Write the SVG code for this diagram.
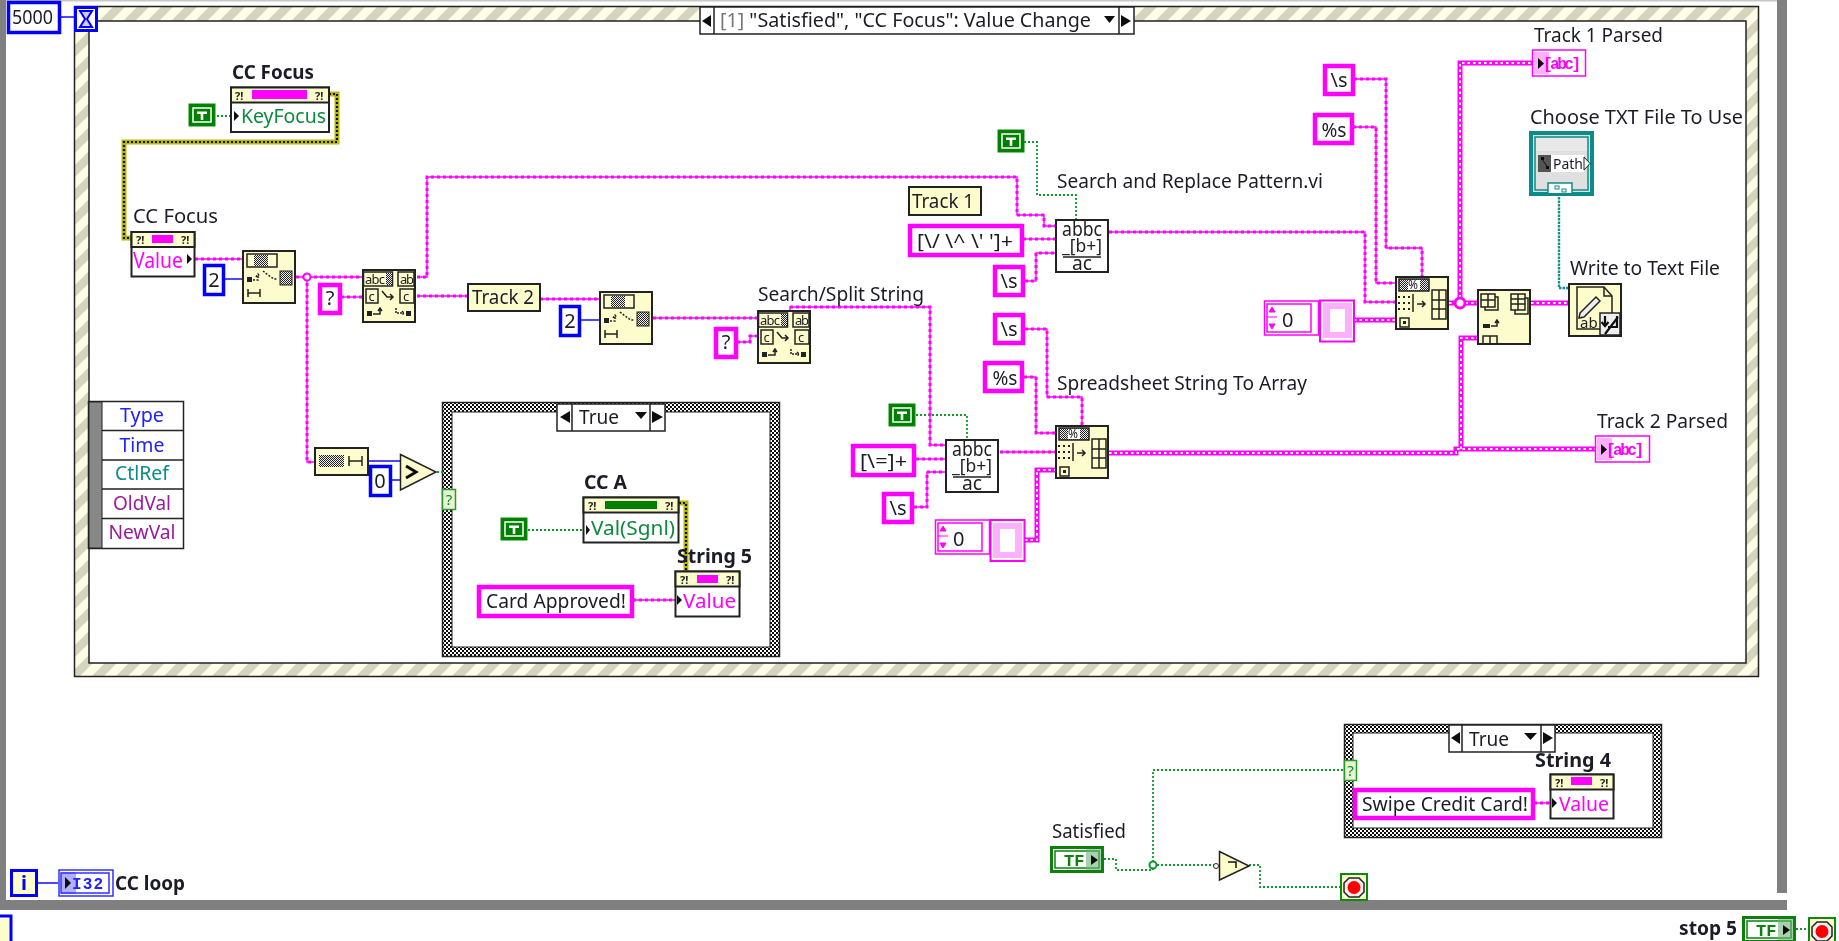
<svg xmlns="http://www.w3.org/2000/svg" width="1839" height="941" viewBox="0 0 1839 941">
<style>
text{font-family:"Noto Sans","Open Sans","Liberation Sans",sans-serif;font-size:20px;fill:#1c1c28}
.b{font-weight:700}
.mag{fill:#f0f}.grn{fill:#0a8a3c}.blu{fill:#2020ff}.tea{fill:#0a8a8a}.pur{fill:#9a1a9a}
.ctr{text-anchor:middle}
.node{fill:#fdfccc;stroke:#222;stroke-width:2}
.wbox{fill:#fff;stroke:#222;stroke-width:2}
.sc{fill:#fff;stroke:#f0f;stroke-width:4.500}
.nc{fill:#fff;stroke:#00f;stroke-width:3.500}
.tc{fill:#fdfccc;stroke:#222;stroke-width:2}
.ic{fill:none;stroke:#222;stroke-width:1.5}
.ik{fill:#222;stroke:none}
.icn{font-size:13px;fill:#222}
.str{stroke:#f0f;stroke-width:1.4;fill:none}
.strd{stroke:#f0f;stroke-width:3;stroke-dasharray:3 3;fill:none}
.fat{stroke:#f0f;stroke-width:5;fill:none}
.fatd{stroke:#fff;stroke-width:2;stroke-dasharray:2.500 3;fill:none}
.blw{stroke:#1a1aff;stroke-width:1.6;fill:none}
.gw{stroke:#0a9a2a;stroke-width:1.8;stroke-dasharray:2 2;fill:none}
.rw{stroke:#b8b800;stroke-width:5;fill:none}
.rwd{stroke:#111;stroke-width:2.2;stroke-dasharray:2 2;fill:none}
.tw{stroke:#159090;stroke-width:2.4;stroke-dasharray:2.5 1;fill:none}
.gray{fill:#808080}
</style>
<defs>
<filter id="soft" filterUnits="userSpaceOnUse" x="0" y="0" width="1839" height="941"><feGaussianBlur stdDeviation="0.45"/></filter>
<pattern id="hatch" width="24" height="24" patternUnits="userSpaceOnUse"><rect width="24" height="24" fill="#fdfde8"/><polygon points="0,24 12,24 24,12 24,0" fill="#d5d5bd"/><polygon points="0,12 12,0 0,0" fill="#d5d5bd"/></pattern>
<pattern id="chk" width="4" height="4" patternUnits="userSpaceOnUse"><rect width="4" height="4" fill="#fff"/><rect width="2" height="2" fill="#111"/><rect x="2" y="2" width="2" height="2" fill="#111"/></pattern>
<pattern id="dots" width="2" height="2" patternUnits="userSpaceOnUse"><rect width="2" height="2" fill="#eee"/><rect width="1" height="1" fill="#222"/><rect x="1" y="1" width="1" height="1" fill="#222"/></pattern>
<g id="icoT"><rect x="1" y="1" width="26" height="22" fill="#008000" stroke="#0a8a0a"/><rect x="5" y="5" width="18" height="14" fill="none" stroke="#fff" stroke-width="1.5"/><path d="M9 8.5H19V11H15.3V17H12.7V11H9Z" fill="#fff"/></g>
<g id="icoStop"><rect x="1" y="1" width="26" height="26" fill="#fdfccc" stroke="#0a8a0a" stroke-width="2"/><polygon points="9,5 19,5 24,10 24,19 19,24 9,24 4,19 4,10" fill="#eee" stroke="#222" stroke-width="1.5"/><circle cx="14" cy="14.500" r="6.500" fill="#f00"/></g>
<g id="icoTF"><rect x="1.500" y="1.500" width="51" height="24" fill="#fff" stroke="#0a800a" stroke-width="3"/><rect x="5" y="5" width="44" height="17" fill="#fff" stroke="#0a800a" stroke-width="1.500"/><text x="14" y="20" class="b" style="font-family:'Liberation Mono',monospace;font-size:17px;fill:#0a800a">TF</text><rect x="36" y="3" width="15" height="21" fill="#6fb07a" opacity=".6"/><polygon points="41,9 48,14 41,19" fill="#111"/></g>
<g id="icoSubset"><rect class="node" x="1" y="1" width="52" height="52"/><rect x="5" y="4" width="30" height="13" fill="#fdfccc" stroke="#222" stroke-width="1.500"/><rect x="12" y="5" width="14" height="11" fill="url(#dots)"/><rect x="38" y="21" width="12" height="14" fill="url(#dots)" stroke="#222"/><rect class="ik" x="5" y="27" width="5" height="5"/><path class="ic" d="M11 30H16V25M14 27L16 24L18 27M21 21L26 25L32 29L35 29" stroke-dasharray="2 1.500"/><path class="ic" d="M6 39V47M18 39V47M6 43H18"/></g>
<g id="icoSearch"><rect class="node" x="1" y="1" width="52" height="52"/><rect x="1.500" y="3" width="29" height="14" fill="#fdfccc" stroke="#222" stroke-width="1.500"/><text x="3" y="15" class="icn" textLength="20">abc</text><rect x="24" y="4" width="6" height="12" fill="url(#dots)"/><rect x="36" y="3" width="16" height="14" fill="#fdfccc" stroke="#222" stroke-width="1.500"/><text x="38" y="15" class="icn" textLength="14">ab</text><rect x="4" y="20" width="12" height="14" fill="none" stroke="#222" stroke-width="1.500"/><text x="6.500" y="32" class="icn">c</text><rect x="38" y="20" width="14" height="14" fill="none" stroke="#222" stroke-width="1.500"/><text x="41" y="32" class="icn">c</text><path class="ic" d="M20 22L25 28H31M28 25L31 28L28 31" stroke-width="2"/><rect class="ik" x="5" y="42" width="5" height="5"/><path class="ic" d="M11 45H18V40M16 42L18 39L20 42"/><rect class="ik" x="44" y="42" width="5" height="5"/><path class="ic" d="M34 39V44H42M40 42L42 44L40 46" stroke-dasharray="2 1"/></g>
<g id="icoRegex"><rect class="wbox" x="1" y="1" width="52" height="52"/><text x="27" y="17" class="ctr" style="font-size:19px;fill:#222" textLength="40" lengthAdjust="spacingAndGlyphs">abbc</text><text x="27" y="33" class="ctr" style="font-size:18px;fill:#222" textLength="40" lengthAdjust="spacingAndGlyphs">_[b+]</text><path d="M8 38H46" stroke="#222" stroke-width="1.500"/><text x="27" y="51" class="ctr" style="font-size:19px;fill:#222" textLength="20" lengthAdjust="spacingAndGlyphs">ac</text></g>
<g id="icoSheet"><rect class="node" x="1" y="1" width="52" height="52"/><rect x="4" y="3" width="30" height="12" fill="url(#dots)" stroke="#222" stroke-width="1.500"/><rect x="13" y="4" width="12" height="10" fill="#fff"/><text x="13" y="13" style="fill:#222;font-size:12px">%</text><path d="M3 20h2v2h-2zM8 20h2v2h-2zM13 20h2v2h-2zM3 26h2v2h-2zM8 26h2v2h-2zM13 26h2v2h-2zM3 32h2v2h-2zM8 32h2v2h-2zM13 32h2v2h-2z" class="ik"/><path d="M18 18V36" class="ic"/><path class="ic" d="M22 28H30M27 25L30 28L27 31" stroke-width="2"/><path class="ic" d="M37 14H51V43H37ZM44 14V43M37 24H51M37 33H51"/><rect x="5" y="42" width="9" height="9" fill="none" stroke="#222" stroke-width="1.500"/><rect x="8" y="45" width="3" height="3" class="ik"/></g>
<g id="icoBuild"><rect class="node" x="1" y="1" width="52" height="54"/><path class="ic" d="M4 5H18V18H4ZM11 5V18M4 11H18M18 8H21V21H8V18" stroke-width="1.400"/><path class="ic" d="M34 5H48V21H34ZM41 5V21M34 10H48M34 15H48M48 9H51V25H38V21" stroke-width="1.400"/><rect class="ik" x="6" y="35" width="7" height="4"/><path class="ic" d="M14 37H20V32M18 34L20 31L22 34"/><path class="ic" d="M6 47H20V55H6ZM13 47V55"/></g>
<g id="icoWrite"><rect class="node" x="1" y="1" width="52" height="52"/><path class="ic" d="M9 4H36L44 13V46H9Z"/><path class="ic" d="M36 4V13H44"/><path d="M12 30L28 14L32 18L16 34L11 35Z" fill="#eee" stroke="#222" stroke-width="1.500"/><text x="12" y="45" style="font-size:15px;fill:#222">ab</text><rect x="32" y="30" width="20" height="22" fill="#eee" stroke="#222" stroke-width="1.500"/><path d="M37 33V42M33.500 39L37 43L40.500 39M49 33V44H40M37 51L50 34" stroke="#111" stroke-width="2.200" fill="none"/></g>
<g id="errq"><text x="0" y="0" class="b" style="font-size:11px;fill:#222">?!</text></g>
</defs>

<g filter="url(#soft)">
<!-- while loop frame -->
<rect x="0" y="0" width="1777" height="1.500" fill="#c8c8c8"/>
<rect class="gray" x="0" y="0" width="6" height="910"/>
<rect class="gray" x="1777" y="0" width="10" height="893"/>
<rect class="gray" x="0" y="900" width="1787" height="10"/>
<rect x="-15" y="916" width="26" height="30" fill="#fdfccc" stroke="#00f" stroke-width="3"/>

<!-- event structure frame -->
<g id="event-structure">
<rect x="74.500" y="6.500" width="1684" height="670" fill="url(#hatch)" stroke="#222" stroke-width="1.500"/>
<rect x="89" y="21" width="1657" height="642" fill="#fff" stroke="#222" stroke-width="1.500"/>
<rect x="700" y="7" width="434" height="27" fill="#fff" stroke="#222" stroke-width="1.500"/>
<path d="M714 7V34M1119 7V34" stroke="#222" stroke-width="1.500"/>
<polygon points="702,21 711,15 711,27" fill="#111"/>
<polygon points="1121,15 1131,21 1121,27" fill="#111"/>
<polygon points="1104,16 1115,16 1109.500,23" fill="#111"/>
<text x="720" y="27" textLength="371" lengthAdjust="spacingAndGlyphs"><tspan style="fill:#777">[1]</tspan> "Satisfied", "CC Focus": Value Change</text>
</g>

<!-- case structure 1 frame -->
<g id="case-true-1">
<rect x="442.500" y="402.500" width="337" height="254" fill="url(#chk)" stroke="#222" stroke-width="1.500"/>
<rect x="452" y="412" width="318" height="235" fill="#fff" stroke="#222"/>
<rect x="557" y="404" width="108" height="27" fill="#fff" stroke="#222" stroke-width="1.500"/>
<path d="M572 404V431M650 404V431" stroke="#222" stroke-width="1.500"/>
<polygon points="560,417 570,411 570,423" fill="#111"/>
<polygon points="652,411 663,417 652,423" fill="#111"/>
<polygon points="635,412 647,412 641,419" fill="#111"/>
<text x="579" y="424" textLength="40" lengthAdjust="spacingAndGlyphs">True</text>
<rect x="442.500" y="489.500" width="13" height="20" fill="#e8f5d0" stroke="#2a9a2a" stroke-width="1.500"/>
<text x="449" y="505" class="ctr grn" style="font-size:15px">?</text>
</g>

<!-- case structure 2 frame -->
<g id="case-true-2">
<rect x="1344.500" y="724.500" width="317" height="113" fill="url(#chk)" stroke="#222" stroke-width="1.500"/>
<rect x="1353" y="733" width="300" height="95" fill="#fff" stroke="#222"/>
<rect x="1449" y="725" width="106" height="27" fill="#fff" stroke="#222" stroke-width="1.500"/>
<path d="M1462 725V752M1541 725V752" stroke="#222" stroke-width="1.500"/>
<polygon points="1451,738 1460,732 1460,744" fill="#111"/>
<polygon points="1543,732 1553,738 1543,744" fill="#111"/>
<polygon points="1524,733 1537,733 1530.500,740" fill="#111"/>
<text x="1469" y="746" textLength="40" lengthAdjust="spacingAndGlyphs">True</text>
<rect x="1344.500" y="760.500" width="12" height="20" fill="#e8f5d0" stroke="#2a9a2a" stroke-width="1.500"/>
<text x="1350.500" y="776" class="ctr grn" style="font-size:15px">?</text>
</g>

<g id="connectors">
<g class="rw"><g id="refW"><path d="M329 94H337V142H124V238H131"/><path d="M679 503H686V571"/></g></g>
<use href="#refW" class="rwd"/>
<g class="blw"><path d="M60 17H74"/><path d="M224 279H242"/><path d="M581 320H599"/><path d="M37 883H58"/><path d="M368 461H400"/><path d="M391 480H400"/></g>
<g class="gw"><path d="M217 116H230"/><path d="M1024 142H1037V195H1076V219"/><path d="M916 415H967V439"/><path d="M528 530H583"/><path d="M437 472H443"/><path d="M1104 859H1116V870H1153V770H1344"/><path d="M1153 865H1214"/><path d="M1249 865H1260V887H1340"/><path d="M1796 929H1808"/></g>
<path class="tw" d="M1559 197V288H1568"/>
<g class="str"><g id="strW">
<path d="M195 259H242"/><path d="M296 277H362"/><path d="M307 277V462H314"/><path d="M341 297H362"/>
<path d="M417 277H427V177H1017V215H1044V226H1055"/><path d="M417 296H467"/><path d="M540 299H599"/><path d="M653 318H757"/>
<path d="M737 342H750V336H757"/><path d="M790 325V307H930V445H945"/><path d="M916 459H945"/><path d="M914 507H927V472H945"/>
<path d="M1023 239H1055"/><path d="M1025 281H1036V253H1055"/><path d="M1109 232H1365V302H1395"/><path d="M1000 452H1055"/>
<path d="M1025 329H1047V397H1082V425"/><path d="M1024 377H1036V433H1055"/><path d="M1354 79H1386V248H1422V276"/><path d="M1353 127H1376V283H1395"/>
<path d="M633 600H675"/><path d="M1534 803H1550"/>
</g></g>
<use href="#strW" class="strd"/>
<g class="fat"><g id="fatW">
<path d="M1025 540H1037V470H1055"/><path d="M1109 453H1456V449H1595"/><path d="M1461 449V338H1477"/><path d="M1354 320H1395"/><path d="M1449 303H1477"/><path d="M1531 303H1568"/><path d="M1460 303V63H1532"/>
</g></g>
<use href="#fatW" class="fatd"/>
<circle cx="307" cy="277" r="3.500" fill="#fff" stroke="#f0f" stroke-width="2"/>
<circle cx="1460" cy="303" r="5" fill="#fff" stroke="#f0f" stroke-width="3"/>
<circle cx="1153" cy="865" r="3.500" fill="#fff" stroke="#0a9a2a" stroke-width="2"/>
</g>

<g id="n-5000"><rect class="nc" x="8.500" y="2.500" width="51" height="30"/><text x="12" y="24" textLength="41" lengthAdjust="spacingAndGlyphs">5000</text></g>
<g id="n-timer"><rect x="75.500" y="7.500" width="21" height="23" fill="#fff" stroke="#00f" stroke-width="3"/><path d="M80 11H92L87 19L92 27H80L85 19Z" fill="#cce" stroke="#00f" stroke-width="2"/></g>

<g id="n-t1"><use href="#icoT" transform="translate(188,103)"/></g>
<g id="n-ccfocus-prop">
<text x="232" y="79" class="b" textLength="82" lengthAdjust="spacingAndGlyphs">CC Focus</text>
<rect class="wbox" x="231" y="87.500" width="98" height="44.500"/><rect class="node" x="231" y="87.500" width="98" height="15"/>
<rect x="252" y="90" width="55" height="9" fill="#f0f"/>
<use href="#errq" transform="translate(235,100)"/><use href="#errq" transform="translate(315,100)"/>
<polygon points="234,111 239,116 234,121" fill="#111"/>
<text x="241" y="123" class="grn" textLength="85" lengthAdjust="spacingAndGlyphs">KeyFocus</text>
</g>
<g id="n-ccfocus-val">
<text x="133" y="223" textLength="85" lengthAdjust="spacingAndGlyphs">CC Focus</text>
<rect class="wbox" x="131.500" y="232" width="63" height="44.500"/><rect class="node" x="131.500" y="232" width="63" height="15"/>
<rect x="152" y="235" width="21" height="8" fill="#f0f"/>
<use href="#errq" transform="translate(136,244)"/><use href="#errq" transform="translate(181,244)"/>
<text x="133" y="268" class="mag" style="font-size:21px" textLength="50" lengthAdjust="spacingAndGlyphs">Value</text>
<polygon points="187,254 192,259 187,264" fill="#111"/>
</g>
<g id="n-c2a"><rect class="nc" x="204.500" y="265.500" width="19" height="29"/><text x="214" y="287" class="ctr">2</text></g>
<g id="n-subset1"><use href="#icoSubset" transform="translate(242,250)"/></g>
<g id="n-q1"><rect class="sc" x="320" y="285" width="20" height="28"/><text x="330" y="305" class="ctr">?</text></g>
<g id="n-split1"><use href="#icoSearch" transform="translate(362,269)"/></g>
<g id="n-track2"><rect class="tc" x="468" y="284" width="72" height="27"/><text x="472" y="304" textLength="62" lengthAdjust="spacingAndGlyphs">Track 2</text></g>
<g id="n-c2b"><rect class="nc" x="560.500" y="306.500" width="19" height="29"/><text x="570" y="328" class="ctr">2</text></g>
<g id="n-subset2"><use href="#icoSubset" transform="translate(599,291)"/></g>
<g id="n-q2"><rect class="sc" x="716" y="329" width="20" height="28"/><text x="726" y="349" class="ctr">?</text></g>
<g id="n-split2">
<text x="758" y="301" textLength="166" lengthAdjust="spacingAndGlyphs">Search/Split String</text>
<use href="#icoSearch" transform="translate(757,310)"/></g>

<g id="n-t2"><use href="#icoT" transform="translate(997,129)"/></g>
<g id="n-track1"><rect class="tc" x="909" y="187" width="72" height="28"/><text x="912" y="208" textLength="62" lengthAdjust="spacingAndGlyphs">Track 1</text></g>
<g id="n-pat1"><rect class="sc" x="910" y="226" width="112" height="29"/><text x="917" y="248" textLength="96" lengthAdjust="spacingAndGlyphs">[\/ \^ \' ']+</text></g>
<g id="n-s1"><rect class="sc" x="995" y="267" width="28" height="28"/><text x="1009" y="288" class="ctr">\s</text></g>
<g id="n-regex1">
<text x="1057" y="188" textLength="266" lengthAdjust="spacingAndGlyphs">Search and Replace Pattern.vi</text>
<use href="#icoRegex" transform="translate(1055,219)"/></g>

<g id="n-s2"><rect class="sc" x="995" y="315" width="28" height="28"/><text x="1009" y="336" class="ctr">\s</text></g>
<g id="n-pct1"><rect class="sc" x="985" y="363" width="37" height="28"/><text x="1005" y="385" class="ctr" textLength="25" lengthAdjust="spacingAndGlyphs">%s</text></g>
<g id="n-t3"><use href="#icoT" transform="translate(888,403)"/></g>
<g id="n-pat2"><rect class="sc" x="853" y="446" width="61" height="29"/><text x="860" y="468" textLength="47" lengthAdjust="spacingAndGlyphs">[\=]+</text></g>
<g id="n-s3"><rect class="sc" x="884" y="494" width="28" height="28"/><text x="898" y="515" class="ctr">\s</text></g>
<g id="n-regex2"><use href="#icoRegex" transform="translate(945,439)"/></g>
<g id="n-sheet1">
<text x="1057" y="390" textLength="250" lengthAdjust="spacingAndGlyphs">Spreadsheet String To Array</text>
<use href="#icoSheet" transform="translate(1055,425)"/></g>
<g id="n-arr1">
<rect x="935.500" y="520" width="54" height="34" fill="#fff" stroke="#f0f" stroke-width="1.500"/>
<rect x="938" y="523" width="44" height="28" fill="#fff" stroke="#f0f" stroke-width="1.500"/>
<path d="M938 536H948M943 526L946 531H940ZM943 548L946 543H940Z" stroke="#f0f" fill="#f0f"/>
<text x="953" y="546">0</text>
<rect x="990.500" y="520" width="34" height="41" fill="#fff" stroke="#f0f" stroke-width="2"/>
<rect x="993" y="523" width="29" height="35" fill="#fdb0fd"/><rect x="1000" y="529" width="15" height="23" fill="#fff"/>
</g>

<g id="n-s4"><rect class="sc" x="1325" y="66" width="28" height="28"/><text x="1339" y="87" class="ctr">\s</text></g>
<g id="n-pct2"><rect class="sc" x="1315" y="115" width="37" height="28"/><text x="1334" y="137" class="ctr" textLength="25" lengthAdjust="spacingAndGlyphs">%s</text></g>
<g id="n-arr2">
<rect x="1264.500" y="301" width="54" height="34" fill="#fff" stroke="#f0f" stroke-width="1.500"/>
<rect x="1267" y="304" width="44" height="28" fill="#fff" stroke="#f0f" stroke-width="1.500"/>
<path d="M1267 317H1277M1272 307L1275 312H1269ZM1272 329L1275 324H1269Z" stroke="#f0f" fill="#f0f"/>
<text x="1282" y="327">0</text>
<rect x="1320" y="300.500" width="34" height="41" fill="#fff" stroke="#f0f" stroke-width="2"/>
<rect x="1323" y="303" width="29" height="35" fill="#fdb0fd"/><rect x="1330" y="309" width="15" height="23" fill="#fff"/>
</g>
<g id="n-sheet2"><use href="#icoSheet" transform="translate(1395,276)"/></g>
<g id="n-build"><use href="#icoBuild" transform="translate(1477,289)"/></g>
<g id="n-write">
<text x="1570" y="275" textLength="150" lengthAdjust="spacingAndGlyphs">Write to Text File</text>
<use href="#icoWrite" transform="translate(1568,283)"/></g>
<g id="n-path">
<text x="1530" y="124" textLength="213" lengthAdjust="spacingAndGlyphs">Choose TXT File To Use</text>
<rect x="1531" y="133" width="61" height="61" fill="#e0e0e0" stroke="#0e8a8a" stroke-width="4"/>
<rect x="1535" y="137" width="53" height="53" fill="none" stroke="#0e8a8a" stroke-width="1.500"/>
<rect x="1536" y="138" width="51" height="13" fill="#e8e8e8"/>
<rect x="1538" y="155" width="13" height="17" fill="#555"/><path d="M1542 159L1548 168" stroke="#111"/><rect x="1541" y="157" width="3" height="3" fill="#111"/><rect x="1546" y="166" width="3" height="3" fill="#111"/>
<rect x="1551" y="155" width="33" height="17" fill="#fff"/>
<text x="1553" y="169" style="font-size:15px" textLength="30" lengthAdjust="spacingAndGlyphs">Path</text>
<polygon points="1584,157 1590,163.500 1584,170" fill="#fff" stroke="#222"/>
<path d="M1548 193V183H1572V193" fill="#fff" stroke="#0e8a8a" stroke-width="1.500"/>
<rect x="1555" y="186" width="4" height="3" fill="none" stroke="#0e8a8a"/><rect x="1562" y="189" width="4" height="3" fill="none" stroke="#0e8a8a"/>
</g>
<g id="n-track1-ind">
<text x="1534" y="42" textLength="129" lengthAdjust="spacingAndGlyphs">Track 1 Parsed</text>
<rect x="1532.500" y="50" width="53" height="26" fill="#fff" stroke="#f0f" stroke-width="1.500"/>
<rect x="1534" y="52" width="15" height="22" fill="#fdb0fd"/>
<text x="1543" y="69" class="mag b" style="font-family:'Liberation Mono',monospace;font-size:16px" textLength="38">[abc]</text>
<polygon points="1538,58 1544,63.500 1538,69" fill="#111"/>
</g>
<g id="n-track2-ind">
<text x="1597" y="428" textLength="131" lengthAdjust="spacingAndGlyphs">Track 2 Parsed</text>
<rect x="1595.500" y="436" width="54" height="26" fill="#fff" stroke="#f0f" stroke-width="1.500"/>
<rect x="1597" y="438" width="15" height="22" fill="#fdb0fd"/>
<text x="1606" y="455" class="mag b" style="font-family:'Liberation Mono',monospace;font-size:16px" textLength="38">[abc]</text>
<polygon points="1601,444 1607,449.500 1601,455" fill="#111"/>
</g>

<g id="n-cluster">
<rect x="88.500" y="401.500" width="95" height="147" fill="#fff" stroke="#222" stroke-width="1.500"/>
<rect x="89" y="402" width="13" height="146" fill="#888" stroke="#222"/>
<path d="M102 430.500H183M102 460H183M102 489H183M102 518.500H183" stroke="#222" stroke-width="1.500"/>
<text x="142" y="422" class="ctr blu" textLength="44" lengthAdjust="spacingAndGlyphs">Type</text>
<text x="142" y="452" class="ctr blu" textLength="45" lengthAdjust="spacingAndGlyphs">Time</text>
<text x="142" y="480" class="ctr tea" textLength="54" lengthAdjust="spacingAndGlyphs">CtlRef</text>
<text x="142" y="510" class="ctr pur" textLength="58" lengthAdjust="spacingAndGlyphs">OldVal</text>
<text x="142" y="539" class="ctr pur" textLength="67" lengthAdjust="spacingAndGlyphs">NewVal</text>
</g>

<g id="n-len"><rect class="node" x="315" y="448" width="53" height="27"/><rect x="319" y="455" width="25" height="12" fill="url(#dots)"/><path class="ic" d="M349 456V466M362 456V466M349 461H362"/></g>
<g id="n-c0"><rect class="nc" x="370.500" y="466.500" width="20" height="29"/><text x="380" y="488" class="ctr">0</text></g>
<g id="n-gt"><polygon points="400.500,454.500 436,472 400.500,490" fill="#fdfccc" stroke="#222" stroke-width="1.500"/><path d="M406 466L416 472L406 478" fill="none" stroke="#111" stroke-width="3"/></g>

<g id="n-t4"><use href="#icoT" transform="translate(500,517)"/></g>
<g id="n-cca">
<text x="584" y="489" class="b" textLength="43" lengthAdjust="spacingAndGlyphs">CC A</text>
<rect class="wbox" x="583.500" y="497.500" width="95" height="45"/><rect class="node" x="583.500" y="497.500" width="95" height="15"/>
<rect x="605" y="501" width="52" height="8" fill="#008000"/>
<use href="#errq" transform="translate(588,510)"/><use href="#errq" transform="translate(665,510)"/>
<polygon points="586,525 590,530 586,535" fill="#111"/>
<text x="591" y="535" class="grn" textLength="84" lengthAdjust="spacingAndGlyphs">Val(Sgnl)</text>
</g>
<g id="n-card"><rect class="sc" x="479" y="587" width="153" height="29"/><text x="486" y="608" textLength="140" lengthAdjust="spacingAndGlyphs">Card Approved!</text></g>
<g id="n-str5">
<text x="677" y="563" class="b" textLength="75" lengthAdjust="spacingAndGlyphs">String 5</text>
<rect class="wbox" x="675.500" y="571.500" width="64" height="45"/><rect class="node" x="675.500" y="571.500" width="64" height="15"/>
<rect x="697" y="575" width="21" height="8" fill="#f0f"/>
<use href="#errq" transform="translate(680,584)"/><use href="#errq" transform="translate(726,584)"/>
<polygon points="677,595 682,600 677,605" fill="#111"/>
<text x="683" y="608" class="mag" textLength="53" lengthAdjust="spacingAndGlyphs">Value</text>
</g>

<g id="n-swipe"><rect class="sc" x="1355" y="790" width="178" height="28"/><text x="1362" y="811" textLength="166" lengthAdjust="spacingAndGlyphs">Swipe Credit Card!</text></g>
<g id="n-str4">
<text x="1535" y="767" class="b" textLength="76" lengthAdjust="spacingAndGlyphs">String 4</text>
<rect class="wbox" x="1550.500" y="774.500" width="63" height="44"/><rect class="node" x="1550.500" y="774.500" width="63" height="15"/>
<rect x="1571" y="777" width="21" height="8" fill="#f0f"/>
<use href="#errq" transform="translate(1555,787)"/><use href="#errq" transform="translate(1600,787)"/>
<polygon points="1552,798 1557,803 1552,808" fill="#111"/>
<text x="1559" y="811" class="mag" textLength="50" lengthAdjust="spacingAndGlyphs">Value</text>
</g>
<g id="n-satisfied">
<text x="1052" y="838" textLength="74" lengthAdjust="spacingAndGlyphs">Satisfied</text>
<use href="#icoTF" transform="translate(1050,846)"/></g>
<g id="n-not"><polygon points="1219.500,851.500 1249,866 1219.500,880" fill="#fdfccc" stroke="#222" stroke-width="1.500"/><circle cx="1216" cy="866" r="2.500" fill="#fff" stroke="#222"/><path d="M1228 862H1236V868" fill="none" stroke="#111" stroke-width="1.500"/></g>
<g id="n-stop1"><use href="#icoStop" transform="translate(1340,873)"/></g>

<g id="n-i"><rect x="11.500" y="870.500" width="25" height="25" fill="#fdfccc" stroke="#00f" stroke-width="3"/><text x="24" y="890" class="ctr b" style="fill:#00f">i</text></g>
<g id="n-loop">
<rect x="59" y="870" width="54" height="26" fill="#fff" stroke="#3030ff" stroke-width="1.500"/>
<rect x="61" y="872" width="15" height="22" fill="#b0b0ff"/>
<rect x="61" y="873" width="48" height="20" fill="none" stroke="#3030ff" stroke-width="1.500"/>
<text x="72" y="889" class="blu b" style="font-family:'Liberation Mono',monospace;font-size:16px" textLength="31">I32</text>
<polygon points="65,877 71,883 65,889" fill="#111"/>
<text x="115" y="890" class="b" textLength="70" lengthAdjust="spacingAndGlyphs">CC loop</text>
</g>
<g id="n-stop5">
<text x="1679" y="935" class="b" textLength="58" lengthAdjust="spacingAndGlyphs">stop 5</text>
<use href="#icoTF" transform="translate(1742,916)"/></g>
<g id="n-stop2"><use href="#icoStop" transform="translate(1808,917)"/></g>
</g>
</svg>
